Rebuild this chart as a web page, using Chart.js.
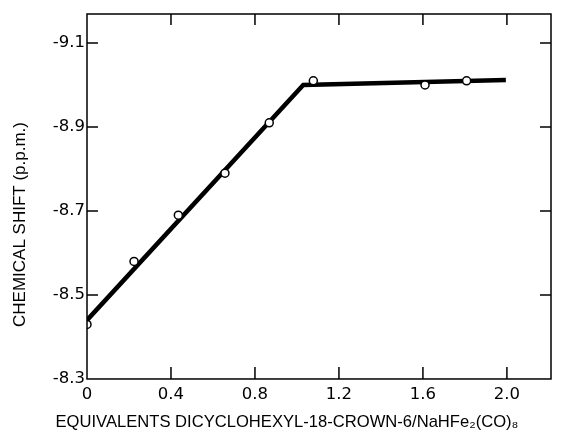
<!DOCTYPE html>
<html>
<head>
<meta charset="utf-8">
<script src="https://cdn.jsdelivr.net/npm/chart.js@4/dist/chart.umd.min.js"></script>
<style>
  html, body { margin: 0; padding: 0; background: #fff; }
  #wrap { width: 583px; height: 435px; }
</style>
</head>
<body>
<div id="wrap"><canvas id="shiftChart" width="583" height="435"></canvas></div>
<script>
// Measured points: equivalents of crown ether vs chemical shift
const equivalents = [0, 0.224, 0.435, 0.657, 0.868, 1.078, 1.61, 1.808];
const shifts = [-8.43, -8.58, -8.69, -8.79, -8.91, -9.01, -9.00, -9.01];

// Hand-drawn fit line (two segments)
const fitX = [0, 1.03, 1.995];
const fitY = [-8.44, -9.0, -9.012];

// Axis ticks
const xTicks = [0, 0.4, 0.8, 1.2, 1.6, 2.0];
const xTickLabels = ['0', '0.4', '0.8', '1.2', '1.6', '2.0'];
const yTicks = [-9.1, -8.9, -8.7, -8.5, -8.3];
const yTickLabels = ['-9.1', '-8.9', '-8.7', '-8.5', '-8.3'];

const TICK_FONT = 'DejaVu Sans';
const TITLE_FONT = 'Liberation Sans';

// Frame round the plot plus inward tick marks on all four sides
const framePlugin = {
  id: 'frame',
  afterDatasetsDraw(chart) {
    const { ctx, chartArea: a, scales } = chart;
    ctx.save();
    ctx.strokeStyle = '#000';
    ctx.lineWidth = 1.5;
    ctx.strokeRect(a.left, a.top, a.right - a.left, a.bottom - a.top);
    ctx.beginPath();
    xTicks.forEach(v => {
      const px = scales.x.getPixelForValue(v);
      if (px - a.left < 2) return;
      ctx.moveTo(px, a.bottom); ctx.lineTo(px, a.bottom - 12);
      ctx.moveTo(px, a.top); ctx.lineTo(px, a.top + 11);
    });
    yTicks.forEach(v => {
      const py = scales.y.getPixelForValue(v);
      if (a.bottom - py < 2) return;
      ctx.moveTo(a.left, py); ctx.lineTo(a.left + 11, py);
      ctx.moveTo(a.right, py); ctx.lineTo(a.right - 11, py);
    });
    ctx.stroke();
    ctx.restore();
  }
};

const ctx = document.getElementById('shiftChart').getContext('2d');
new Chart(ctx, {
  type: 'scatter',
  data: {
    datasets: [
      {
        label: 'fit',
        data: fitX.map((x, i) => ({ x: x, y: fitY[i] })),
        showLine: true,
        borderColor: '#000',
        borderWidth: 4.5,
        pointRadius: 0,
        order: 2
      },
      {
        label: 'measured',
        data: equivalents.map((x, i) => ({ x: x, y: shifts[i] })),
        showLine: false,
        pointRadius: 4,
        pointBorderWidth: 1.5,
        pointBorderColor: '#000',
        pointBackgroundColor: '#fff',
        order: 1
      }
    ]
  },
  options: {
    responsive: false,
    animation: false,
    layout: { padding: { top: 14, right: 9, left: 0, bottom: 0 } },
    plugins: {
      legend: { display: false },
      tooltip: { enabled: false },
      title: {
        display: true,
        position: 'bottom',
        text: 'EQUIVALENTS DICYCLOHEXYL-18-CROWN-6/NaHFe\u2082(CO)\u2088',
        color: '#000',
        font: { family: TITLE_FONT, size: 16.6, weight: 'normal' },
        padding: { top: 4, bottom: 3 }
      },
      subtitle: {
        display: true,
        position: 'left',
        text: 'CHEMICAL SHIFT (p.p.m.)',
        color: '#000',
        font: { family: TITLE_FONT, size: 17, weight: 'normal' },
        padding: { top: 9.8, bottom: 0 }
      }
    },
    scales: {
      x: {
        type: 'linear',
        min: 0,
        max: 2.21,
        afterBuildTicks: s => { s.ticks = xTicks.map(v => ({ value: v })); },
        afterFit: s => { s.height = 29.1; },
        ticks: {
          color: '#000',
          padding: 6,
          font: { family: TICK_FONT, size: 16.5 },
          callback: v => xTickLabels[xTicks.indexOf(v)]
        },
        grid: { display: false, drawTicks: false },
        border: { display: false }
      },
      y: {
        type: 'linear',
        min: -9.169,
        max: -8.3,
        reverse: true,
        afterBuildTicks: s => { s.ticks = yTicks.map(v => ({ value: v })); },
        afterFit: s => { s.width = 56.8; },
        ticks: {
          color: '#000',
          padding: 2,
          font: { family: TICK_FONT, size: 16.5 },
          callback: v => yTickLabels[yTicks.indexOf(v)]
        },
        grid: { display: false, drawTicks: false },
        border: { display: false }
      },
      y2: {
        type: 'linear',
        position: 'right',
        display: true,
        afterFit: s => { s.width = 23; },
        ticks: { display: false },
        grid: { display: false, drawTicks: false },
        border: { display: false }
      }
    }
  },
  plugins: [framePlugin]
});
</script>
</body>
</html>
